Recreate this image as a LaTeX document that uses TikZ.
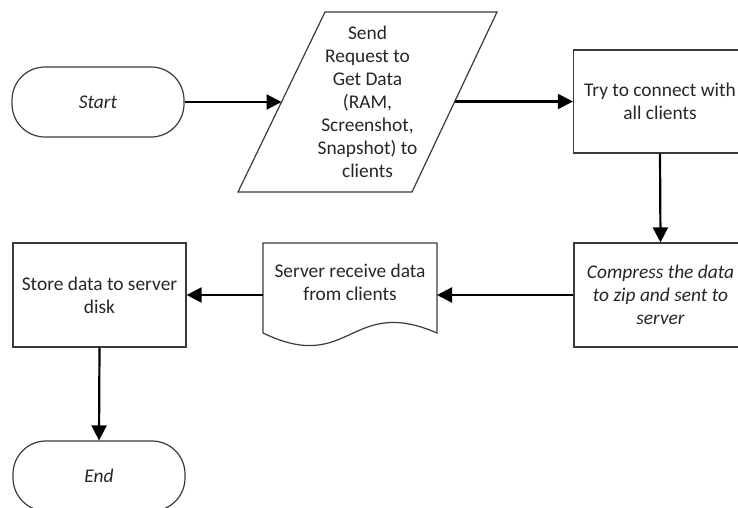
\documentclass[tikz,border=0pt]{standalone}
\usepackage{fontspec}
\setmainfont{Carlito}
\usetikzlibrary{arrows.meta}

\definecolor{inkline}{HTML}{3A3A3A}
\definecolor{inktext}{HTML}{262626}

\tikzset{
  outline/.style={draw=inkline, line width=1.2pt},
  label/.style={text=inktext, align=center, inner sep=0pt,
    font=\fontsize{19.4}{23}\selectfont},
  terminal/.style={outline, label, rounded corners=33pt,
    minimum width=172pt, minimum height=70pt, font=\fontsize{19.4}{23}\selectfont\itshape},
  process/.style={outline, label, minimum width=173pt, minimum height=104pt},
  flow/.style={draw=black, line width=2.2pt,
    -{Triangle[length=15pt,width=15pt]}, shorten >=0pt},
}

\begin{document}
\begin{tikzpicture}[x=1pt, y=-1pt]
  \useasboundingbox (0,0) rectangle (738,507);
  \clip (0,0) rectangle (738,507);

  % terminators
  \node[terminal] (start) at (98,102) {Start};
  \node[terminal] (end) at (99,476) {End};

  % input/output parallelogram
  \draw[outline] (238,192) -- (325,12) -- (497,12) -- (412,192) -- cycle;
  \node[label] (send) at (367.5,101.5)
    {Send\\Request to\\Get Data\\(RAM,\\Screenshot,\\Snapshot) to\\clients};
  \coordinate (sendL) at (281.5,102);
  \coordinate (sendR) at (455,101.5);

  % process boxes
  \node[process, minimum height=103pt] (try) at (660,101.5)
    {Try to connect with\\all clients};
  \node[process, font=\fontsize{19.4}{23}\selectfont\itshape] (compress) at (660.5,295)
    {Compress the data\\to zip and sent to\\server};
  \node[process] (store) at (99.5,295) {Store data to server\\disk};

  % document shape
  \draw[outline] (263,333) -- (263,243) -- (437,243) -- (437,333)
    .. controls (350,295) and (350,375) .. (263,333);
  \node[label] (receive) at (350,282) {Server receive data\\from clients};
  \coordinate (receiveL) at (263,295);
  \coordinate (receiveR) at (437,295);

  % connectors
  \draw[flow] (start.east) -- (sendL);
  \draw[flow] (sendR) -- (try.west |- sendR);
  \draw[flow] (try.south) -- (compress.north);
  \draw[flow] (compress.west) -- (receiveR);
  \draw[flow] (receiveL) -- (store.east);
  \draw[flow] (store.south) -- (end.north);
\end{tikzpicture}
\end{document}
